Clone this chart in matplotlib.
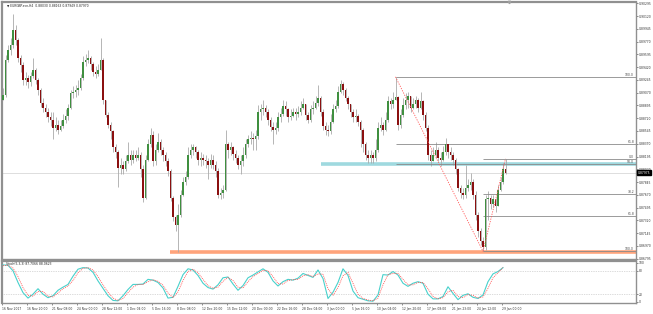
import matplotlib
matplotlib.use('Agg')
import matplotlib.pyplot as plt
import matplotlib.transforms as mtransforms
import numpy as np

# ---------------- data ----------------
first_open = 0.8897
close = [
    0.8904, 0.8952, 0.8966, 0.8972, 0.8993, 0.8979, 0.8955, 0.8945, 0.8925, 0.8927,
    0.8922, 0.8930, 0.8938, 0.8925, 0.8911, 0.8893, 0.8886, 0.8881, 0.8873, 0.8870,
    0.8859, 0.8863, 0.8856, 0.8862, 0.8870, 0.8875, 0.8886, 0.8906, 0.8908, 0.8911,
    0.8914, 0.8927, 0.8949, 0.8952, 0.8955, 0.8946, 0.8936, 0.8933, 0.8938, 0.8952,
    0.8897, 0.8877, 0.8863, 0.8854, 0.8832, 0.8826, 0.8804, 0.8808, 0.8802, 0.8813,
    0.8822, 0.8815, 0.8822, 0.8818, 0.8821, 0.8802, 0.8763, 0.8815, 0.8836, 0.8849,
    0.8813, 0.8829, 0.8840, 0.8829, 0.8821, 0.8813, 0.8799, 0.8763, 0.8736, 0.8726,
    0.8740, 0.8767, 0.8784, 0.8791, 0.8822, 0.8829, 0.8832, 0.8826, 0.8815, 0.8818,
    0.8815, 0.8813, 0.8808, 0.8815, 0.8808, 0.8799, 0.8767, 0.8769, 0.8774, 0.8836,
    0.8829, 0.8832, 0.8823, 0.8818, 0.8808, 0.8813, 0.8822, 0.8836, 0.8843, 0.8845,
    0.8843, 0.8847, 0.8881, 0.8884, 0.8886, 0.8881, 0.8870, 0.8860, 0.8856, 0.8859,
    0.8873, 0.8878, 0.8889, 0.8884, 0.8874, 0.8875, 0.8880, 0.8878, 0.8881, 0.8886,
    0.8892, 0.8877, 0.8870, 0.8884, 0.8886, 0.8893, 0.8900, 0.8881, 0.8862, 0.8856,
    0.8854, 0.8867, 0.8884, 0.8889, 0.8908, 0.8919, 0.8911, 0.8900, 0.8892, 0.8881,
    0.8873, 0.8875, 0.8867, 0.8856, 0.8836, 0.8822, 0.8818, 0.8821, 0.8818, 0.8829,
    0.8859, 0.8863, 0.8856, 0.8870, 0.8895, 0.8892, 0.8897, 0.8901, 0.8863, 0.8877,
    0.8890, 0.8897, 0.8903, 0.8886, 0.8892, 0.8897, 0.8886, 0.8895, 0.8877, 0.8859,
    0.8822, 0.8813, 0.8822, 0.8829, 0.8818, 0.8815, 0.8826, 0.8836, 0.8826, 0.8822,
    0.8815, 0.8802, 0.8777, 0.8769, 0.8767, 0.8777, 0.8780, 0.8785, 0.8767, 0.8740,
    0.8717, 0.8703, 0.8695, 0.8761, 0.8763, 0.8754, 0.8761, 0.8751, 0.8774, 0.8784,
    0.8803, 0.8797,
]
high = [
    0.8914, 0.8959, 0.8972, 0.8982, 0.9015, 0.9000, 0.8982, 0.8959, 0.8949, 0.8936,
    0.8931, 0.8936, 0.8955, 0.8941, 0.8927, 0.8914, 0.8900, 0.8892, 0.8886, 0.8880,
    0.8881, 0.8873, 0.8870, 0.8870, 0.8878, 0.8884, 0.8892, 0.8911, 0.8916, 0.8918,
    0.8925, 0.8933, 0.8957, 0.8960, 0.8966, 0.8957, 0.8949, 0.8944, 0.8946, 0.8982,
    0.8955, 0.8897, 0.8881, 0.8867, 0.8856, 0.8837, 0.8829, 0.8818, 0.8813, 0.8821,
    0.8839, 0.8829, 0.8829, 0.8829, 0.8832, 0.8826, 0.8808, 0.8822, 0.8843, 0.8859,
    0.8854, 0.8836, 0.8852, 0.8843, 0.8832, 0.8826, 0.8818, 0.8802, 0.8766, 0.8740,
    0.8754, 0.8774, 0.8791, 0.8799, 0.8832, 0.8836, 0.8837, 0.8834, 0.8829, 0.8826,
    0.8823, 0.8822, 0.8818, 0.8823, 0.8822, 0.8813, 0.8804, 0.8777, 0.8781, 0.8856,
    0.8839, 0.8840, 0.8834, 0.8829, 0.8822, 0.8821, 0.8832, 0.8843, 0.8849, 0.8854,
    0.8852, 0.8856, 0.8890, 0.8892, 0.8897, 0.8890, 0.8884, 0.8874, 0.8867, 0.8867,
    0.8881, 0.8886, 0.8897, 0.8895, 0.8886, 0.8884, 0.8886, 0.8886, 0.8889, 0.8895,
    0.8900, 0.8892, 0.8881, 0.8890, 0.8895, 0.8903, 0.8918, 0.8903, 0.8884, 0.8867,
    0.8863, 0.8878, 0.8892, 0.8897, 0.8916, 0.8925, 0.8922, 0.8914, 0.8903, 0.8892,
    0.8884, 0.8884, 0.8878, 0.8870, 0.8859, 0.8840, 0.8829, 0.8829, 0.8826, 0.8843,
    0.8867, 0.8873, 0.8867, 0.8881, 0.8903, 0.8900, 0.8908, 0.89287, 0.8903, 0.8884,
    0.8900, 0.8906, 0.8908, 0.8903, 0.8900, 0.8903, 0.8900, 0.8908, 0.8897, 0.8881,
    0.8863, 0.8829, 0.8832, 0.8839, 0.8832, 0.8826, 0.8834, 0.8845, 0.8836, 0.8832,
    0.8826, 0.8818, 0.8804, 0.8781, 0.8777, 0.8808, 0.8788, 0.8797, 0.8788, 0.8772,
    0.8744, 0.8722, 0.8709, 0.8767, 0.8772, 0.8767, 0.8767, 0.8763, 0.8781, 0.8791,
    0.8810, 0.88163,
]
low = [
    0.8897, 0.8901, 0.8949, 0.8959, 0.8968, 0.8972, 0.8949, 0.8936, 0.8918, 0.8918,
    0.8914, 0.8916, 0.8927, 0.8919, 0.8904, 0.8888, 0.8880, 0.8873, 0.8867, 0.8862,
    0.8843, 0.8854, 0.8851, 0.8854, 0.8859, 0.8865, 0.8870, 0.8884, 0.8900, 0.8901,
    0.8904, 0.8911, 0.8925, 0.8944, 0.8948, 0.8938, 0.8930, 0.8927, 0.8930, 0.8944,
    0.8892, 0.8873, 0.8859, 0.8843, 0.8826, 0.8818, 0.8778, 0.8795, 0.8795, 0.8799,
    0.8811, 0.8808, 0.8811, 0.8813, 0.8815, 0.8791, 0.8757, 0.8761, 0.8813, 0.8832,
    0.8806, 0.8808, 0.8826, 0.8821, 0.8813, 0.8807, 0.8793, 0.8758, 0.8731, 0.8717,
    0.8688, 0.8736, 0.8766, 0.8780, 0.8788, 0.8818, 0.8821, 0.8818, 0.8808, 0.8807,
    0.8808, 0.8804, 0.8788, 0.8804, 0.8802, 0.8791, 0.8763, 0.8761, 0.8763, 0.8772,
    0.8818, 0.8821, 0.8815, 0.8811, 0.8802, 0.8795, 0.8807, 0.8818, 0.8832, 0.8836,
    0.8829, 0.8829, 0.8843, 0.8870, 0.8877, 0.8873, 0.8863, 0.8854, 0.8836, 0.8851,
    0.8854, 0.8867, 0.8875, 0.8875, 0.8867, 0.8869, 0.8873, 0.8870, 0.8873, 0.8877,
    0.8884, 0.8870, 0.8865, 0.8867, 0.8878, 0.8884, 0.8889, 0.8875, 0.8856, 0.8849,
    0.8848, 0.8851, 0.8865, 0.8881, 0.8886, 0.8906, 0.8904, 0.8895, 0.8884, 0.8873,
    0.8867, 0.8867, 0.8862, 0.8832, 0.8826, 0.8815, 0.8811, 0.8811, 0.8811, 0.8813,
    0.8826, 0.8854, 0.8849, 0.8854, 0.8867, 0.8884, 0.8886, 0.8897, 0.8856, 0.8859,
    0.8873, 0.8884, 0.8886, 0.8881, 0.8884, 0.8886, 0.8881, 0.8884, 0.8870, 0.8854,
    0.8815, 0.8807, 0.8813, 0.8818, 0.8813, 0.8807, 0.8813, 0.8822, 0.8818, 0.8815,
    0.8808, 0.8796, 0.8772, 0.8763, 0.8761, 0.8763, 0.8772, 0.8774, 0.8761, 0.8733,
    0.8709, 0.8698, 0.86895, 0.8692, 0.8733, 0.8747, 0.8750, 0.8744, 0.8752, 0.8772,
    0.8782, 0.87949,
]
current_price = 0.87975

stoch_main = [
    95, 94, 80, 50, 24, 10, 20, 34, 20, 11,
    16, 30, 38, 45, 66, 84, 88, 87, 76, 54,
    35, 16, 4, 3, 16, 32, 45, 45, 46, 58,
    56, 50, 36, 10, 12, 40, 70, 85, 82, 68,
    48, 37, 33, 44, 62, 64, 46, 30, 42, 62,
    69, 77, 85, 76, 54, 41, 52, 58, 56, 61,
    73, 68, 63, 82, 60, 9, 25, 50, 85, 68,
    28, 11, 7, 3, 2, 18, 70, 69, 78, 69,
    48, 40, 48, 52, 48, 20, 8, 8, 14, 39,
    22, 6, 17, 21, 12, 9, 18, 52, 72, 78,
    88,
]
stoch_signal = [
    93, 94, 87, 65, 37, 17, 15, 27, 27, 15,
    13, 23, 34, 41, 55, 75, 86, 88, 82, 65,
    44, 25, 10, 4, 9, 24, 38, 45, 45, 52,
    57, 53, 43, 23, 11, 26, 55, 78, 84, 75,
    58, 42, 35, 38, 53, 63, 55, 38, 36, 52,
    65, 73, 81, 80, 65, 47, 46, 55, 57, 58,
    67, 70, 65, 72, 71, 34, 17, 37, 67, 76,
    48, 20, 9, 5, 3, 10, 44, 70, 73, 73,
    58, 44, 44, 50, 50, 34, 14, 8, 11, 26,
    30, 14, 11, 19, 17, 10, 13, 35, 62, 75,
    88,
]

price_ticks = [0.90295, 0.90120, 0.89945, 0.89770, 0.89595, 0.89420, 0.89245,
               0.89070, 0.88895, 0.88720, 0.88545, 0.88370, 0.88195, 0.88020,
               0.87845, 0.87670, 0.87495, 0.87320, 0.87145, 0.86970, 0.86795]
date_labels = ["16 Nov 2017", "16 Nov 20:00", "21 Nov 08:00", "24 Nov 00:00",
               "28 Nov 12:00", "1 Dec 04:00", "5 Dec 16:00", "8 Dec 08:00",
               "12 Dec 20:00", "15 Dec 12:00", "20 Dec 00:00", "22 Dec 16:00",
               "28 Dec 04:00", "3 Jan 00:00", "5 Jan 16:00", "10 Jan 04:00",
               "12 Jan 20:00", "17 Jan 08:00", "21 Jan 23:00", "24 Jan 12:00",
               "29 Jan 00:00"]

# Fibonacci 1: from swing high to swing low
fib1_high = 0.89287
fib1_low = 0.86895
fib1_levels = [100.0, 61.8, 50.0]
# Fibonacci 2: from swing low to recent high
fib2_low = 0.86895
fib2_high = 0.88163
fib2_levels = [0.0, 38.2, 61.8, 100.0]
support_blue = 0.88095
support_orange = 0.86885

# ---------------- figure ----------------
W, H = 653, 314
fig = plt.figure(figsize=(W / 100, H / 100), dpi=100)
fig.patch.set_facecolor('white')

FS = 2.2


def fx(px):
    return px / W


def fy(py):
    return 1 - py / H


ax = fig.add_axes([fx(2), fy(259), fx(636) - fx(2), fy(2) - fy(259)])
ax2 = fig.add_axes([fx(2), fy(303), fx(636) - fx(2), fy(261) - fy(303)], sharex=ax)

n = len(close)
idx = np.arange(n)
c = np.array(close)
o = np.concatenate([[first_open], c[:-1]])
h = np.maximum(np.array(high), np.maximum(o, c))
l = np.minimum(np.array(low), np.minimum(o, c))

XL, XR = -0.4, 253.2
YB, YT = 0.86790, 0.90313

# current price line
ax.axhline(current_price, color='#d8d8d8', lw=0.6, zorder=1)

# wicks
ax.vlines(idx, l, h, color='#a9a9a9', lw=0.6, zorder=2)
# bodies
up = c >= o
bot = np.minimum(o, c)
hgt = np.maximum(np.abs(c - o), 0.00003)
ax.bar(idx[up], hgt[up], bottom=bot[up], width=0.6, color='#3f8f3f', lw=0, zorder=3)
ax.bar(idx[~up], hgt[~up], bottom=bot[~up], width=0.6, color='#8b1010', lw=0, zorder=3)

# support / resistance zones
ax.hlines(support_blue, 127.2, XR, color='#9fd9df', lw=2.6, zorder=1.5)
ax.hlines(support_orange, 66.8, XR, color='#ffa47c', lw=2.6, zorder=1.5)

# Fibonacci 1
i_hi = int(np.argmax(h[150:170])) + 150
i_lo = int(np.argmin(l[180:])) + 180
rng1 = fib1_high - fib1_low
for lev in fib1_levels:
    yv = fib1_low + rng1 * lev / 100.0
    ax.hlines(yv, i_hi, XR, color='#8a8a8a', lw=0.6, zorder=2)
    ax.text(XR - 0.8, yv, f"{lev:.1f}", fontsize=FS, color='#444444',
            ha='right', va='bottom', zorder=5)
ax.plot([i_hi, i_lo], [fib1_high, fib1_low], color='#ff5a5a', lw=0.6,
        ls=(0, (1.5, 1.5)), zorder=4)

# Fibonacci 2
rng2 = fib2_high - fib2_low
for lev in fib2_levels:
    yv = fib2_high - rng2 * lev / 100.0
    ax.hlines(yv, i_lo, XR, color='#8a8a8a', lw=0.6, zorder=2)
    ax.text(XR - 0.8, yv, f"{lev:.1f}", fontsize=FS, color='#444444',
            ha='right', va='bottom', zorder=5)
ax.plot([i_lo, n - 1], [fib2_low, fib2_high], color='#ff5a5a', lw=0.6,
        ls=(0, (1.5, 1.5)), zorder=4)

ax.set_xlim(XL, XR)
ax.set_ylim(YB, YT)
ax.yaxis.tick_right()
ax.set_yticks(price_ticks)
ax.set_yticklabels([f"{v:.5f}" for v in price_ticks])
ax.tick_params(axis='y', labelsize=FS, length=1.5, width=0.4, pad=0.6,
               colors='#333333')
ax.tick_params(axis='x', bottom=False, labelbottom=False)
for s in ax.spines.values():
    s.set_color('#909090')
    s.set_linewidth(1.0)
ax.spines['top'].set_linewidth(1.6)
ax.spines['left'].set_linewidth(1.6)

# current price box
trans = mtransforms.blended_transform_factory(ax.transAxes, ax.transData)
ax.text(1.003, current_price, f"{current_price:.5f}", transform=trans,
        fontsize=FS, color='white', ha='left', va='center',
        bbox=dict(boxstyle='square,pad=0.2', fc='black', ec='black'),
        zorder=10, clip_on=False)

# shift marker on top
ax.plot([n + 0.5], [YT], marker='v', ms=1.8, color='#a0a0a0', clip_on=False, zorder=6)

# title
ax.text(0.008, 0.995, "\u25bc EURGBP.ecn,H4  0.88030 0.88163 0.87949 0.87970",
        transform=ax.transAxes, fontsize=FS, color='#222222', ha='left', va='top')

# ---------------- stochastic ----------------
sx = np.arange(len(stoch_main)) * 2
ax2.axhline(80, color='#b8b8b8', lw=0.5, ls=(0, (1, 1.5)))
ax2.axhline(20, color='#b8b8b8', lw=0.5, ls=(0, (1, 1.5)))
ax2.plot(sx, stoch_main, color='#48d1cc', lw=0.8, zorder=3)
ax2.plot(sx, stoch_signal, color='#ff5050', lw=0.6, ls=(0, (1.2, 1.2)), zorder=4)
ax2.set_ylim(-2.6, 105)
ax2.set_xlim(XL, XR)
ax2.yaxis.tick_right()
ax2.set_yticks([0, 20, 80, 100])
ax2.set_yticklabels(['0', '20', '80', '100'])
ax2.tick_params(axis='y', labelsize=FS, length=1.5, width=0.4, pad=0.6,
                colors='#333333')
tick_pos = [10 * k - 0.4 for k in range(len(date_labels))]
ax2.set_xticks(tick_pos)
ax2.set_xticklabels(date_labels)
ax2.tick_params(axis='x', labelsize=FS, length=1.5, width=0.4, pad=1.5,
                colors='#333333')
for lab in ax2.get_xticklabels():
    lab.set_ha('left')
for s in ax2.spines.values():
    s.set_color('#909090')
    s.set_linewidth(1.0)
ax2.spines['top'].set_linewidth(1.6)
ax2.spines['left'].set_linewidth(1.6)
ax2.text(0.006, 0.97, "Stoch(5,3,3) 87.7066 88.0623", transform=ax2.transAxes,
         fontsize=FS, color='#222222', ha='left', va='top')

fig.savefig('out.png', dpi=100, facecolor='white')
